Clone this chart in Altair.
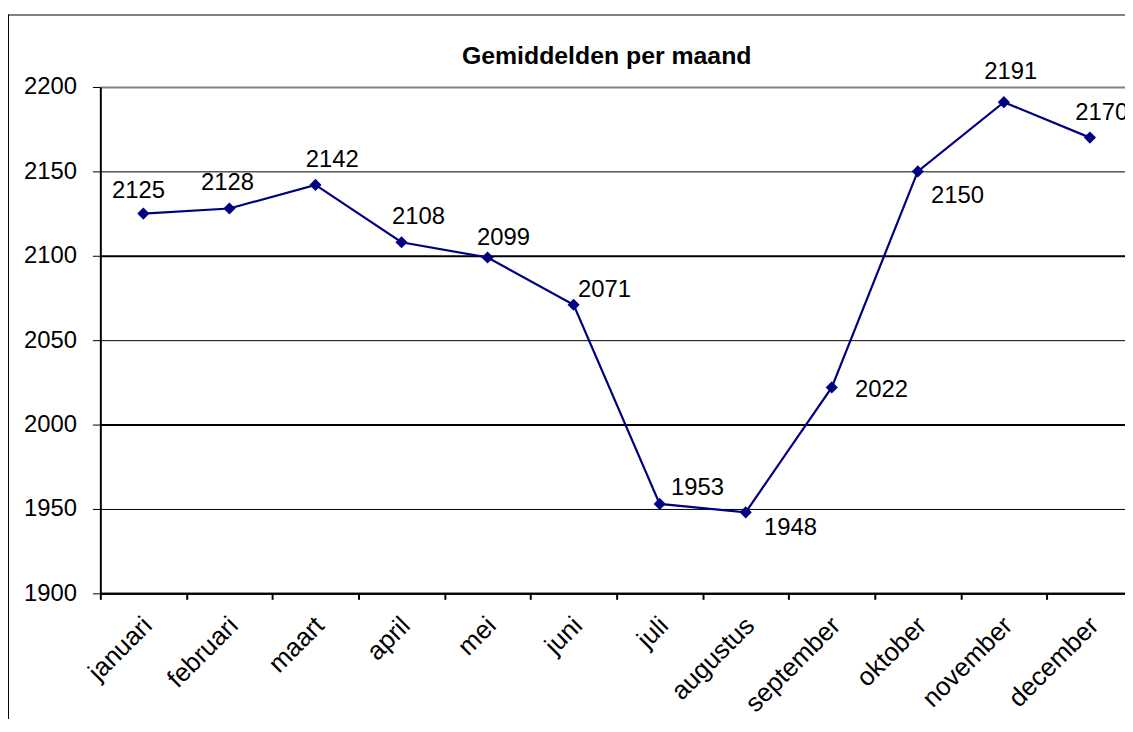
import altair as alt
import pandas as pd

# ---- data ----
months = ["januari", "februari", "maart", "april", "mei", "juni", "juli",
          "augustus", "september", "oktober", "november", "december"]
values = [2125, 2128, 2142, 2108, 2099, 2071, 1953, 1948, 2022, 2150, 2191, 2170]
y_ticks = [1900, 1950, 2000, 2050, 2100, 2150, 2200]
title_text = "Gemiddelden per maand"

# ---- label placement (style: pixel offsets of each data label) ----
label_offsets = {
    "januari": (-5, -23), "februari": (-2, -26), "maart": (17, -25),
    "april": (17, -25), "mei": (16, -20), "juni": (31, -15),
    "juli": (38, -16), "augustus": (45, 16), "september": (50, 3),
    "oktober": (40, 25), "november": (7, -30), "december": (12, -25),
}

FONT = "Liberation Sans"
NAVY = "#000080"

df = pd.DataFrame({"maand": months, "waarde": values})
base = alt.Chart(df)

x_enc = alt.X(
    "maand:N", sort=months, bandPosition=0.5,
    scale=alt.Scale(type="band", range=[0, 1040], paddingInner=0, paddingOuter=0),
    axis=alt.Axis(
        title=None, tickBand="extent", labelAngle=-45, labelAlign="right",
        labelBaseline="middle", labelFontSize=26, labelFont=FONT, labelColor="black",
        tickSize=6, tickColor="black", tickWidth=2, domainColor="black",
        domainWidth=2, labelPadding=22, labelOffset=4, grid=False,
    ),
)
y_enc = alt.Y(
    "waarde:Q",
    scale=alt.Scale(domain=[1900, 2200], nice=False, zero=False),
    axis=alt.Axis(
        title=None, values=y_ticks, format="d", labelFontSize=24, labelFont=FONT,
        labelColor="black", tickSize=8, tickColor="black", tickWidth=1,
        domainColor="black", domainWidth=2, labelPadding=16, grid=True,
        gridColor={"condition": {"test": "datum.value == 2200", "value": "#808080"},
                   "value": "black"},
        gridWidth={"condition": {"test": "datum.value % 100 == 0", "value": 2},
                   "value": 1},
        gridOpacity=1,
    ),
)

line = base.mark_line(color=NAVY, strokeWidth=2.2).encode(x=x_enc, y=y_enc)
points = base.mark_point(shape="diamond", filled=True, color=NAVY, size=150,
                         opacity=1).encode(x=x_enc, y=y_enc)

labels = []
for m in months:
    dx, dy = label_offsets[m]
    labels.append(
        base.transform_filter(alt.datum.maand == m)
        .mark_text(font=FONT, fontSize=24, color="black", dx=dx, dy=dy,
                   align="center", baseline="middle")
        .encode(x=x_enc, y=y_enc, text="waarde:Q")
    )

frame = alt.Data(values=[{"k": 1}])
top_border = alt.Chart(frame).mark_rule(color="black", strokeWidth=1).encode(
    x=alt.value(-93), x2=alt.value(1040), y=alt.value(-72.5))
left_border = alt.Chart(frame).mark_rule(color="black", strokeWidth=1).encode(
    x=alt.value(-92.5), y=alt.value(-73), y2=alt.value(650))
title = alt.Chart(alt.Data(values=[{"t": title_text}])).mark_text(
    font=FONT, fontSize=25, fontWeight="bold", color="black",
    align="center", baseline="middle").encode(
    x=alt.value(510), y=alt.value(-31), text="t:N")

chart = (
    alt.layer(top_border, left_border, title, line, points, *labels)
    .properties(
        width=1032, height=510,
        padding={"left": 93, "top": 77, "right": 0, "bottom": 124},
        autosize=alt.AutoSizeParams(type="none"),
    )
    .configure(font=FONT)
    .configure_view(stroke=None)
)

chart.save("out.html", embed_options={"renderer": "svg", "actions": False})
